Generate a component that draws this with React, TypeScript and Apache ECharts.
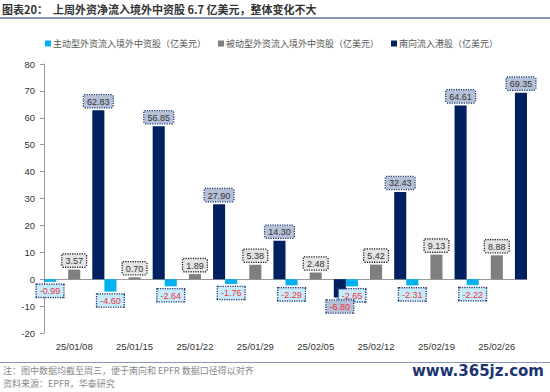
import React, { useEffect, useRef } from "react";
import * as echarts from "echarts";

const categories = ["25/01/08", "25/01/15", "25/01/22", "25/01/29", "25/02/05", "25/02/12", "25/02/19", "25/02/26"];
const activeFlow = [-0.99, -4.6, -2.64, -1.76, -2.29, -2.65, -2.31, -2.22];
const passiveFlow = [3.57, 0.7, 1.89, 5.38, 2.48, 5.42, 9.13, 8.88];
const southbound = [62.83, 56.85, 27.9, 14.3, -6.8, 32.43, 64.61, 69.35];
const seriesNames = ["主动型外资流入境外中资股（亿美元）", "被动型外资流入境外中资股（亿美元）", "南向流入港股（亿美元）"];
const titleText = "图表20：  上周外资净流入境外中资股 6.7 亿美元，整体变化不大";
const note1 = "注：图中数据均截至周三，便于南向和 EPFR 数据口径得以对齐";
const note2 = "资料来源：EPFR，华泰研究";
const watermark = "www.365jz.com";

const CJK = "'Noto Sans CJK SC', 'Noto Sans', sans-serif";
const SANS = "'Liberation Sans', Arial, sans-serif";

function makeData(values: number[], boxFill: string, boxBorder: string, textColor: string) {
  return values.map((v) => ({
    value: v,
    label: {
      color: v < 0 ? "#f03040" : textColor,
      backgroundColor: boxFill,
      borderColor: boxBorder,
    },
  }));
}

export default function App() {
  const ref = useRef<HTMLDivElement>(null);
  useEffect(() => {
    if (!ref.current) return;
    const chart = echarts.init(ref.current, undefined, { renderer: "svg" });
    const labelBase = {
      show: true,
      position: "outside",
      distance: 3,
      fontFamily: SANS,
      fontSize: 9,
      padding: [2, 3, 1, 3],
      borderWidth: 1.3,
      borderType: [1.3, 1.1],
      formatter: (p: any) => Number(p.value).toFixed(2),
    };
    chart.setOption({
      animation: false,
      backgroundColor: "#ffffff",
      legend: {
        top: 34,
        left: 40,
        itemWidth: 6,
        itemHeight: 6,
        itemGap: 12,
        icon: "rect",
        textStyle: { fontFamily: CJK, fontSize: 9, color: "#555", padding: [0, 0, 0, -3] },
        data: seriesNames,
      },
      grid: { left: 44, right: 23, top: 64, bottom: 59, containLabel: false },
      xAxis: [
        {
          type: "category",
          data: categories,
          position: "bottom",
          axisLine: { onZero: true, lineStyle: { color: "#999", width: 1 } },
          axisTick: { show: false },
          axisLabel: { show: false },
        },
        {
          type: "category",
          data: categories,
          position: "bottom",
          axisLine: { show: false, onZero: false },
          axisTick: { show: false },
          axisLabel: { show: true, fontFamily: SANS, fontSize: 9.5, color: "#333", margin: 8 },
        },
      ],
      yAxis: {
        type: "value",
        min: -20,
        max: 80,
        interval: 10,
        axisLine: { show: true, lineStyle: { color: "#999" } },
        axisTick: { show: true, length: 4, lineStyle: { color: "#999" } },
        splitLine: { show: false },
        axisLabel: { fontFamily: SANS, fontSize: 9.5, color: "#333", margin: 9 },
      },
      series: [
        {
          name: seriesNames[0],
          type: "bar",
          xAxisIndex: 0,
          barGap: "100%",
          barCategoryGap: "0%",
          itemStyle: { color: "#00b0f0" },
          label: { ...labelBase },
          data: makeData(activeFlow, "#c6ecfb", "#1f3a78", "#f03040"),
        },
        {
          name: seriesNames[1],
          type: "bar",
          xAxisIndex: 0,
          barGap: "100%",
          barCategoryGap: "0%",
          itemStyle: { color: "#7f7f7f" },
          label: { ...labelBase },
          data: makeData(passiveFlow, "#e4e4e4", "#222222", "#333333"),
        },
        {
          name: seriesNames[2],
          type: "bar",
          xAxisIndex: 0,
          barGap: "100%",
          barCategoryGap: "0%",
          itemStyle: { color: "#002060" },
          label: { ...labelBase },
          data: makeData(southbound, "#b6c1d8", "#1f3a78", "#333333"),
        },
      ],
      graphic: [
        {
          type: "text",
          left: 2,
          top: 3,
          style: { text: titleText, font: `bold 11px ${CJK}`, fill: "#333" },
        },
        {
          type: "rect",
          shape: { x: 0, y: 17, width: 550, height: 2 },
          style: { fill: "#8596b8" },
        },
        {
          type: "rect",
          shape: { x: 0, y: 362, width: 550, height: 1 },
          style: { fill: "#8596b8" },
        },
        {
          type: "text",
          left: 3,
          top: 366,
          style: { text: note1, font: `9px ${CJK}`, fill: "#888" },
        },
        {
          type: "text",
          left: 3,
          top: 379,
          style: { text: note2, font: `9px ${CJK}`, fill: "#888" },
        },
        {
          type: "text",
          right: 6,
          top: 363,
          style: { text: watermark, font: `bold 15px 'DejaVu Sans', sans-serif`, fill: "#1c3570" },
        },
      ],
    });
    return () => chart.dispose();
  }, []);
  return (
    <div style={{ position: "fixed", left: 0, top: 0, width: 550, height: 392, background: "#fff" }}>
      <div ref={ref} style={{ width: 550, height: 392 }} />
    </div>
  );
}
